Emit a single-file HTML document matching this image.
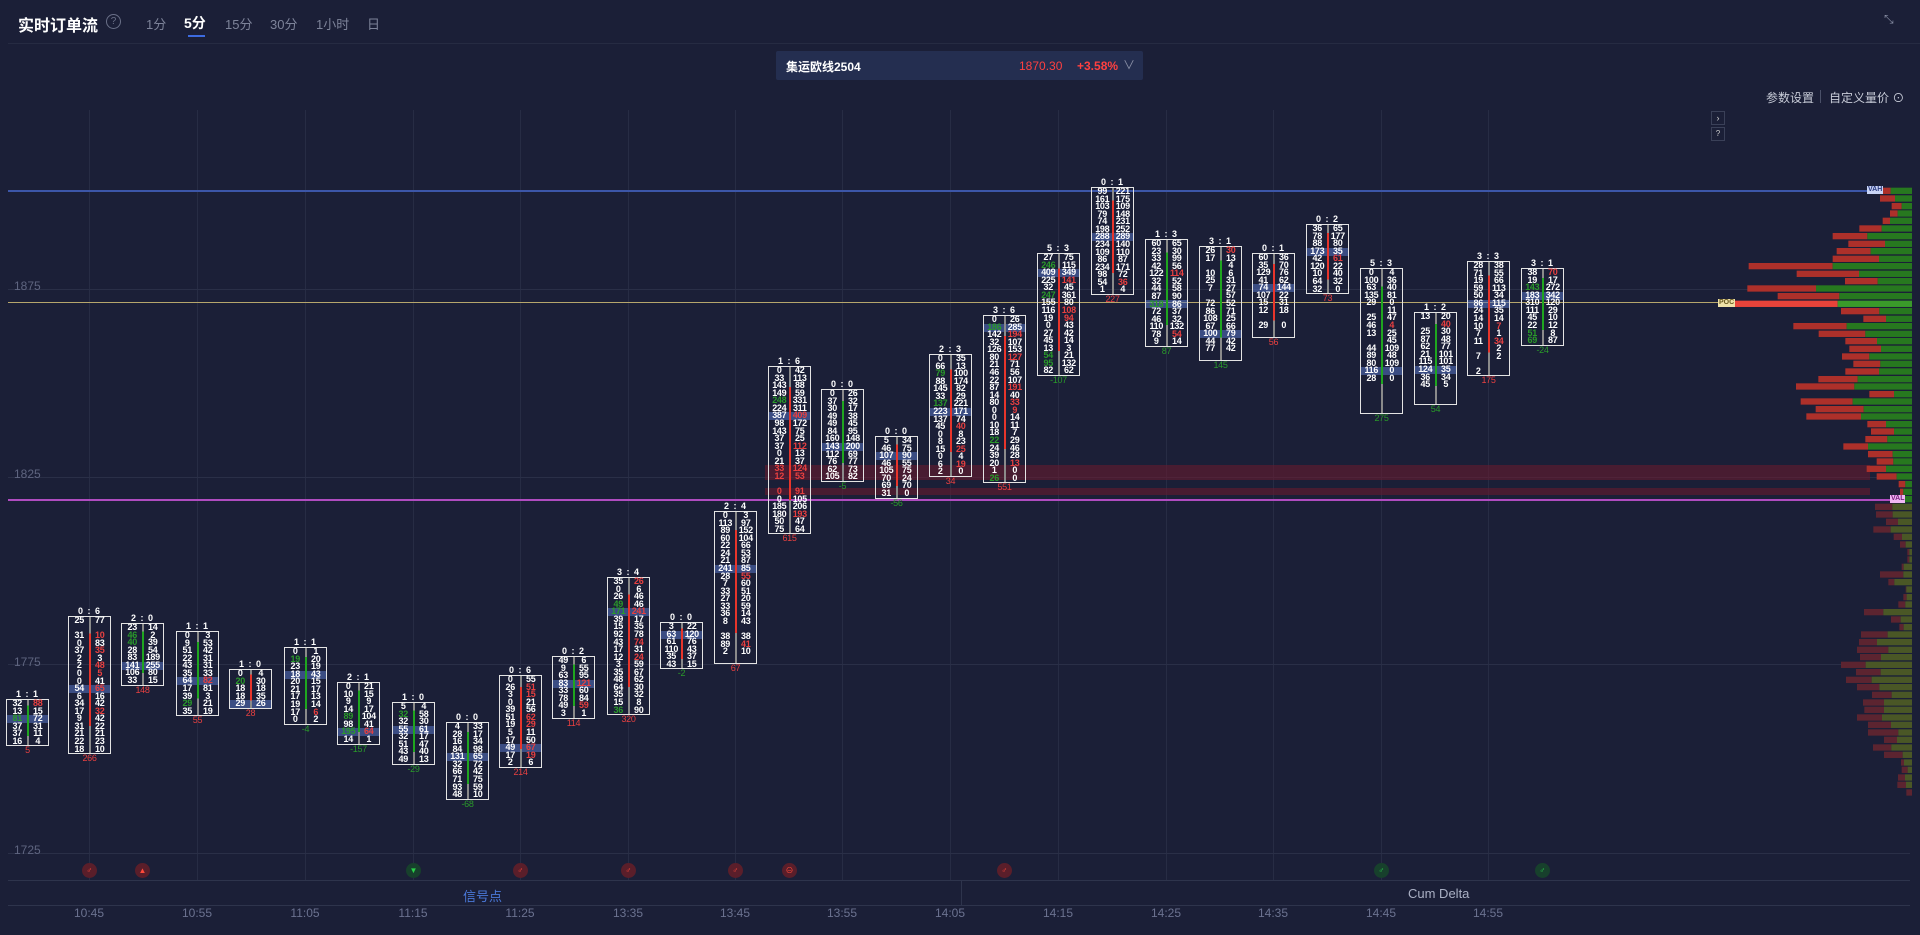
<!DOCTYPE html>
<html><head><meta charset="utf-8"><style>
*{box-sizing:border-box}
body{margin:0;width:1920px;height:935px;background:#1b1f37;overflow:hidden;position:relative;font-family:"Liberation Sans","Noto Sans CJK SC",sans-serif;color:#fff}
.a{position:absolute}
.t{font-size:13px;color:#7d8399;top:14px}
.vg{position:absolute;top:110px;height:770px;width:1px;background:#272c44}
.hg{position:absolute;left:8px;width:1902px;height:1px;background:#2a2f47}
.yl{position:absolute;left:14px;font-size:12px;color:#5f6580}
.xl{position:absolute;top:906px;font-size:12px;color:#6b7290;width:60px;text-align:center;margin-left:-30px}
.k{position:absolute;width:43px;font:bold 9px "Liberation Sans",sans-serif;color:#fff;text-align:center;letter-spacing:-0.3px}
.k h6{margin:0;height:10px;line-height:10px;font-size:9px;font-weight:bold;letter-spacing:1px}
.k .b{border:1px solid #e4e4e4;position:relative;display:flex}
.k .b p{margin:0;width:50%;line-height:7.57px;position:relative;z-index:2}
.k .b:after{content:'';position:absolute;left:20px;top:0;bottom:0;width:2px;background:linear-gradient(#8a8a8a 0 12%,var(--c) 12% 80%,#8a8a8a 80%);z-index:1}
.g{--c:#1fa61f}.r{--c:#e8352b}
.k i{position:absolute;left:0;right:0;height:7.6px;background:rgba(85,115,195,.55);z-index:0}
.k h5{margin:0;font-size:9px;line-height:9px;font-weight:normal}
.dr{color:#e84040}.dg{color:#2a9a2a}
.sg{position:absolute;top:863px;width:15px;height:15px;border-radius:50%;font-size:8px;line-height:15px;text-align:center}
.sr{background:#5a1e2a;color:#ff4a3a}.sgn{background:#17402c;color:#2ad04a}
</style></head><body>
<!-- header -->
<div class="a" style="left:18px;top:12px;font-size:16px;font-weight:bold">实时订单流</div>
<div class="a" style="left:106px;top:14px;width:15px;height:15px;border:1px solid #6a7088;border-radius:50%;font-size:10px;color:#6a7088;text-align:center;line-height:13px">?</div>
<div class="a t" style="left:146px">1分</div>
<div class="a t" style="left:184px;color:#fff;font-weight:bold;font-size:14px;top:13px">5分</div>
<div class="a" style="left:188px;top:35px;width:17px;height:2px;background:#3d6be0"></div>
<div class="a t" style="left:225px">15分</div>
<div class="a t" style="left:270px">30分</div>
<div class="a t" style="left:316px">1小时</div>
<div class="a t" style="left:367px">日</div>
<div class="a" style="left:1884px;top:12px;font-size:12px;color:#8a90a6">⤡</div>
<div class="a" style="left:8px;top:43px;width:1912px;height:1px;background:#262b42"></div>
<!-- dropdown -->
<div class="a" style="left:776px;top:51px;width:367px;height:29px;background:#242e50;border-radius:2px"></div>
<div class="a" style="left:786px;top:58px;font-size:12px;font-weight:bold">集运欧线2504</div>
<div class="a" style="left:1019px;top:59px;font-size:12px;color:#ff4040">1870.30</div>
<div class="a" style="left:1077px;top:59px;font-size:12px;color:#ff4040;font-weight:bold">+3.58%</div>
<div class="a" style="left:1123px;top:56px;font-size:12px;color:#8a90a6">∨</div>
<div class="a" style="left:1766px;top:89px;font-size:12px;color:#c8ccd8">参数设置</div>
<div class="a" style="left:1820px;top:90px;width:1px;height:13px;background:#4a5068"></div>
<div class="a" style="left:1829px;top:89px;font-size:12px;color:#c8ccd8">自定义量价 ⊙</div>
<div class="a" style="left:1711px;top:111px;width:14px;height:14px;border:1px solid #3a4058;font-size:9px;color:#ccc;text-align:center;line-height:12px">›</div>
<div class="a" style="left:1711px;top:127px;width:14px;height:14px;border:1px solid #3a4058;font-size:8px;color:#ccc;text-align:center;line-height:12px">?</div>
<!-- grid -->
<div class="vg" style="left:89px"></div><div class="vg" style="left:197px"></div><div class="vg" style="left:305px"></div><div class="vg" style="left:413px"></div><div class="vg" style="left:520px"></div><div class="vg" style="left:628px"></div><div class="vg" style="left:735px"></div><div class="vg" style="left:842px"></div><div class="vg" style="left:950px"></div><div class="vg" style="left:1058px"></div><div class="vg" style="left:1166px"></div><div class="vg" style="left:1273px"></div><div class="vg" style="left:1381px"></div><div class="vg" style="left:1488px"></div>
<div class="hg" style="top:289px"></div><div class="hg" style="top:477px"></div><div class="hg" style="top:664px"></div><div class="hg" style="top:853px"></div>
<div class="yl" style="top:279px">1875</div><div class="yl" style="top:467px">1825</div><div class="yl" style="top:655px">1775</div><div class="yl" style="top:843px">1725</div>
<!-- bands -->
<div class="a" style="left:765px;top:465px;width:1105px;height:15px;background:rgba(110,25,45,.55)"></div>
<div class="a" style="left:765px;top:488px;width:1105px;height:7px;background:rgba(110,25,45,.55)"></div>
<!-- key lines -->
<div class="a" style="left:8px;top:190px;width:1860px;height:2px;background:#3c56a8"></div>
<div class="a" style="left:8px;top:302px;width:1712px;height:1px;background:#b6a66c"></div>
<div class="a" style="left:8px;top:499px;width:1882px;height:2px;background:#b04cc0"></div>
<svg class="a" style="left:0;top:0" width="1920" height="935" id="pf"></svg>
<div class="a" style="left:1867px;top:186px;font-size:7px;font-weight:bold;background:#c9d4f5;color:#2a3a80;padding:0 1px;line-height:8px">VAH</div>
<div class="a" style="left:1718px;top:299px;font-size:7px;font-weight:bold;background:#efe2a8;color:#6a5a20;padding:0 1px;line-height:8px">POC</div>
<div class="a" style="left:1890px;top:495px;font-size:7px;font-weight:bold;background:#f0b8f4;color:#7a2080;padding:0 1px;line-height:8px">VAL</div>

<!-- candles -->
<div class="k" style="left:6px;top:689px"><h6>1 : 1</h6><div class="b g"><i style="top:15px"></i><p>32<br>13<br><span class="dg">81</span><br>37<br>37<br>16</p><p><span class="dr">88</span><br>15<br>72<br>31<br>11<br>4</p></div><h5 class="dr">5</h5></div>
<div class="k" style="left:68px;top:606px"><h6>0 : 6</h6><div class="b r"><i style="top:68px"></i><p>25<br>&nbsp;<br>31<br>0<br>37<br>2<br>2<br>0<br>0<br>54<br>6<br>34<br>17<br>9<br>31<br>21<br>22<br>18</p><p>77<br>&nbsp;<br><span class="dr">10</span><br>83<br><span class="dr">35</span><br>3<br><span class="dr">48</span><br><span class="dr">5</span><br>41<br><span class="dr">65</span><br>16<br>42<br><span class="dr">32</span><br>42<br>22<br>21<br>23<br>10</p></div><h5 class="dr">266</h5></div>
<div class="k" style="left:121px;top:613px"><h6>2 : 0</h6><div class="b g"><i style="top:38px"></i><p>23<br><span class="dg">46</span><br><span class="dg">40</span><br>28<br>83<br>141<br>106<br>33</p><p>14<br>2<br>39<br>54<br>189<br>255<br>80<br>15</p></div><h5 class="dr">148</h5></div>
<div class="k" style="left:176px;top:621px"><h6>1 : 1</h6><div class="b g"><i style="top:45px"></i><p>0<br>9<br>51<br>22<br>43<br>35<br>64<br>17<br>39<br><span class="dg">29</span><br>35</p><p>3<br>53<br>42<br>31<br>31<br>33<br><span class="dr">82</span><br>81<br>3<br>21<br>19</p></div><h5 class="dr">55</h5></div>
<div class="k" style="left:229px;top:659px"><h6>1 : 0</h6><div class="b r"><i style="top:30px"></i><p>0<br><span class="dg">20</span><br>18<br>18<br>29</p><p>4<br>30<br>18<br>35<br>26</p></div><h5 class="dr">28</h5></div>
<div class="k" style="left:284px;top:637px"><h6>1 : 1</h6><div class="b g"><i style="top:23px"></i><p>0<br><span class="dg">19</span><br>23<br>18<br>20<br>21<br>17<br>19<br>17<br>0</p><p>1<br>20<br>19<br>43<br>15<br>17<br>13<br>14<br><span class="dr">6</span><br>2</p></div><h5 class="dg">-4</h5></div>
<div class="k" style="left:337px;top:672px"><h6>2 : 1</h6><div class="b g"><i style="top:45px"></i><p>0<br>10<br>9<br>14<br><span class="dg">89</span><br>98<br><span class="dg">195</span><br>14</p><p>21<br>15<br>9<br>17<br>104<br>41<br><span class="dr">64</span><br>1</p></div><h5 class="dg">-157</h5></div>
<div class="k" style="left:392px;top:692px"><h6>1 : 0</h6><div class="b g"><i style="top:23px"></i><p>5<br><span class="dg">32</span><br>32<br>55<br>32<br>51<br>43<br>49</p><p>4<br>58<br>30<br>61<br>17<br>47<br>40<br>13</p></div><h5 class="dg">-29</h5></div>
<div class="k" style="left:446px;top:712px"><h6>0 : 0</h6><div class="b g"><i style="top:30px"></i><p>4<br>28<br>16<br>84<br>131<br>32<br>66<br>71<br>93<br>48</p><p>33<br>17<br>34<br>98<br>65<br>72<br>42<br>75<br>59<br>10</p></div><h5 class="dg">-68</h5></div>
<div class="k" style="left:499px;top:665px"><h6>0 : 6</h6><div class="b r"><i style="top:68px"></i><p>0<br>26<br>3<br>0<br>39<br>51<br>19<br>5<br>17<br>49<br>17<br>2</p><p>55<br><span class="dr">51</span><br><span class="dr">15</span><br>21<br>56<br><span class="dr">62</span><br><span class="dr">29</span><br>11<br>50<br><span class="dr">67</span><br><span class="dr">19</span><br>6</p></div><h5 class="dr">214</h5></div>
<div class="k" style="left:552px;top:646px"><h6>0 : 2</h6><div class="b g"><i style="top:23px"></i><p>49<br>9<br>63<br>83<br>33<br>78<br>49<br>3</p><p>6<br>55<br>95<br><span class="dr">121</span><br>60<br>84<br><span class="dr">59</span><br>1</p></div><h5 class="dr">114</h5></div>
<div class="k" style="left:607px;top:567px"><h6>3 : 4</h6><div class="b r"><i style="top:30px"></i><p>35<br>0<br>26<br><span class="dg">49</span><br><span class="dg">171</span><br>39<br>15<br>92<br>43<br>17<br>12<br>3<br>35<br>48<br>64<br>35<br>15<br><span class="dg">36</span></p><p><span class="dr">26</span><br>6<br>46<br>46<br><span class="dr">241</span><br>17<br>35<br>78<br><span class="dr">74</span><br>31<br><span class="dr">24</span><br>59<br>67<br>62<br>30<br>32<br>8<br>90</p></div><h5 class="dr">320</h5></div>
<div class="k" style="left:660px;top:612px"><h6>0 : 0</h6><div class="b r"><i style="top:8px"></i><p>3<br>63<br>61<br>110<br>35<br>43</p><p>22<br>120<br>76<br>43<br>37<br>15</p></div><h5 class="dg">-2</h5></div>
<div class="k" style="left:714px;top:501px"><h6>2 : 4</h6><div class="b r"><i style="top:53px"></i><p>0<br>113<br>89<br>60<br>22<br>24<br>21<br>241<br>28<br>7<br>33<br>27<br>33<br>36<br>8<br>&nbsp;<br>38<br>89<br>2<br>&nbsp;</p><p>3<br>97<br>152<br>104<br>66<br>53<br>87<br>85<br><span class="dr">55</span><br>60<br>51<br>20<br>59<br>14<br>43<br>&nbsp;<br>38<br><span class="dr">41</span><br>10<br>&nbsp;</p></div><h5 class="dr">67</h5></div>
<div class="k" style="left:768px;top:356px"><h6>1 : 6</h6><div class="b r"><i style="top:45px"></i><p>0<br>33<br>143<br>149<br><span class="dg">248</span><br>224<br>387<br>98<br>143<br>37<br>37<br>0<br>21<br><span class="dr">33</span><br><span class="dr">12</span><br>&nbsp;<br><span class="dr">0</span><br>0<br>185<br>180<br>50<br>75</p><p>42<br>113<br>88<br>59<br>331<br>311<br><span class="dr">409</span><br>172<br>75<br>25<br><span class="dr">112</span><br>13<br>37<br><span class="dr">124</span><br><span class="dr">53</span><br>&nbsp;<br><span class="dr">91</span><br>105<br>206<br><span class="dr">193</span><br>47<br>64</p></div><h5 class="dr">615</h5></div>
<div class="k" style="left:821px;top:379px"><h6>0 : 0</h6><div class="b g"><i style="top:53px"></i><p>0<br>37<br>30<br>49<br>49<br>84<br>160<br>143<br>112<br>76<br>62<br>105</p><p>26<br>32<br>17<br>38<br>45<br>95<br>148<br>200<br>69<br>77<br>73<br>82</p></div><h5 class="dg">-5</h5></div>
<div class="k" style="left:875px;top:426px"><h6>0 : 0</h6><div class="b r"><i style="top:15px"></i><p>5<br>46<br>107<br>46<br>105<br>70<br>69<br>31</p><p>34<br>75<br>90<br>55<br>75<br>24<br>70<br>0</p></div><h5 class="dg">-56</h5></div>
<div class="k" style="left:929px;top:344px"><h6>2 : 3</h6><div class="b r"><i style="top:53px"></i><p>0<br>66<br><span class="dg">79</span><br>88<br>145<br>33<br><span class="dg">137</span><br>223<br>137<br>45<br>0<br>8<br>15<br>0<br>6<br>2</p><p>35<br>13<br>100<br>174<br>82<br>29<br>221<br>171<br>74<br><span class="dr">40</span><br>8<br>23<br><span class="dr">25</span><br>4<br><span class="dr">19</span><br>0</p></div><h5 class="dr">34</h5></div>
<div class="k" style="left:983px;top:305px"><h6>3 : 6</h6><div class="b r"><i style="top:8px"></i><p>0<br><span class="dg">186</span><br>142<br>32<br>126<br>80<br>21<br>46<br>22<br>87<br>14<br>80<br>0<br>0<br>10<br>18<br><span class="dg">22</span><br>24<br>39<br>20<br>1<br><span class="dg">26</span></p><p>26<br>285<br><span class="dr">194</span><br>107<br>153<br><span class="dr">127</span><br>71<br>56<br>107<br><span class="dr">191</span><br>40<br><span class="dr">33</span><br><span class="dr">9</span><br>14<br>11<br>7<br>29<br>46<br>28<br><span class="dr">13</span><br>0<br>0</p></div><h5 class="dr">551</h5></div>
<div class="k" style="left:1037px;top:243px"><h6>5 : 3</h6><div class="b r"><i style="top:15px"></i><p>27<br><span class="dg">246</span><br>409<br>225<br>32<br><span class="dg">247</span><br>155<br>116<br>19<br>0<br>27<br>45<br>13<br><span class="dg">54</span><br><span class="dg">95</span><br>82</p><p>75<br>115<br>349<br><span class="dr">141</span><br>45<br>361<br>80<br><span class="dr">108</span><br><span class="dr">94</span><br>43<br>42<br>14<br>3<br>21<br>132<br>62</p></div><h5 class="dg">-107</h5></div>
<div class="k" style="left:1091px;top:177px"><h6>0 : 1</h6><div class="b r"><i style="top:45px"></i><p>99<br>161<br>103<br>79<br>74<br>198<br>288<br>234<br>109<br>86<br>234<br>98<br>54<br>1</p><p>221<br>175<br>109<br>148<br>231<br>252<br>289<br>140<br>110<br>87<br>171<br>72<br><span class="dr">36</span><br>4</p></div><h5 class="dr">227</h5></div>
<div class="k" style="left:1145px;top:229px"><h6>1 : 3</h6><div class="b g"><i style="top:60px"></i><p>60<br>23<br>33<br>42<br>122<br>32<br>44<br>87<br><span class="dg">318</span><br>72<br>46<br>110<br>78<br>9</p><p>65<br>30<br>99<br>56<br><span class="dr">114</span><br>52<br>58<br>90<br>86<br>37<br>32<br>132<br><span class="dr">54</span><br>14</p></div><h5 class="dg">87</h5></div>
<div class="k" style="left:1199px;top:236px"><h6>3 : 1</h6><div class="b g"><i style="top:83px"></i><p>26<br>17<br>&nbsp;<br>10<br>25<br>7<br>&nbsp;<br>72<br>86<br>108<br>67<br>100<br>44<br>77<br>&nbsp;</p><p><span class="dr">30</span><br>13<br>4<br>6<br>31<br>27<br>57<br>52<br>71<br>25<br>66<br>79<br>42<br>42<br>&nbsp;</p></div><h5 class="dg">145</h5></div>
<div class="k" style="left:1252px;top:243px"><h6>0 : 1</h6><div class="b r"><i style="top:30px"></i><p>60<br>35<br>129<br>41<br>74<br>107<br>15<br>12<br>&nbsp;<br>29<br>&nbsp;</p><p>36<br>70<br>76<br>62<br>144<br>22<br>31<br>18<br>&nbsp;<br>0<br>&nbsp;</p></div><h5 class="dr">56</h5></div>
<div class="k" style="left:1306px;top:214px"><h6>0 : 2</h6><div class="b r"><i style="top:23px"></i><p>36<br>78<br>88<br>173<br>42<br>120<br>10<br>64<br>32</p><p>65<br>177<br>80<br>35<br><span class="dr">61</span><br>22<br>40<br>32<br>0</p></div><h5 class="dr">73</h5></div>
<div class="k" style="left:1360px;top:258px"><h6>5 : 3</h6><div class="b g"><i style="top:98px"></i><p>0<br>100<br>63<br>135<br>29<br>&nbsp;<br>25<br>46<br>13<br>&nbsp;<br>44<br>89<br>80<br>116<br>28<br>&nbsp;<br>&nbsp;<br>&nbsp;<br>&nbsp;</p><p>4<br>36<br>40<br>81<br>0<br>11<br>47<br><span class="dr">4</span><br>25<br>45<br>109<br>48<br>109<br>0<br>0<br>&nbsp;<br>&nbsp;<br>&nbsp;<br>&nbsp;</p></div><h5 class="dg">275</h5></div>
<div class="k" style="left:1414px;top:302px"><h6>1 : 2</h6><div class="b g"><i style="top:53px"></i><p>13<br>&nbsp;<br>25<br>87<br>62<br>21<br>115<br>124<br>36<br>45<br>&nbsp;<br>&nbsp;</p><p>20<br><span class="dr">40</span><br>30<br>48<br>77<br>101<br>101<br>35<br>34<br>5<br>&nbsp;<br>&nbsp;</p></div><h5 class="dg">54</h5></div>
<div class="k" style="left:1467px;top:251px"><h6>3 : 3</h6><div class="b r"><i style="top:38px"></i><p>28<br>71<br>19<br>59<br>50<br>86<br>24<br>14<br>10<br>7<br>11<br>&nbsp;<br>7<br>&nbsp;<br>2</p><p>38<br>55<br>66<br>113<br>34<br>115<br>35<br>14<br><span class="dr">7</span><br>1<br><span class="dr">34</span><br>2<br>2<br>&nbsp;<br>&nbsp;</p></div><h5 class="dr">175</h5></div>
<div class="k" style="left:1521px;top:258px"><h6>3 : 1</h6><div class="b g"><i style="top:23px"></i><p>38<br>19<br><span class="dg">143</span><br>183<br>310<br>111<br>45<br>22<br><span class="dg">51</span><br><span class="dg">69</span></p><p><span class="dr">70</span><br>17<br>272<br>342<br>120<br>29<br>10<br>12<br>8<br>87</p></div><h5 class="dg">-24</h5></div>

<!-- signals -->
<div class="sg sr" style="left:82px">♂</div>
<div class="sg sr" style="left:135px">▲</div>
<div class="sg sgn" style="left:406px">▼</div>
<div class="sg sr" style="left:513px">♂</div>
<div class="sg sr" style="left:621px">♂</div>
<div class="sg sr" style="left:728px">♂</div>
<div class="sg sr" style="left:782px">⊖</div>
<div class="sg sr" style="left:997px">♂</div>
<div class="sg sgn" style="left:1374px">♂</div>
<div class="sg sgn" style="left:1535px">♂</div>
<!-- bottom -->
<div class="a" style="left:8px;top:880px;width:1902px;height:1px;background:#2e344c"></div>
<div class="a" style="left:961px;top:881px;width:1px;height:24px;background:#2e344c"></div>
<div class="a" style="left:463px;top:886px;font-size:13px;color:#4a78d8">信号点</div>
<div class="a" style="left:1408px;top:886px;font-size:13px;color:#aab0c4">Cum Delta</div>
<div class="a" style="left:8px;top:905px;width:1902px;height:1px;background:#2e344c"></div>
<div class="xl" style="left:89px">10:45</div><div class="xl" style="left:197px">10:55</div><div class="xl" style="left:305px">11:05</div><div class="xl" style="left:413px">11:15</div><div class="xl" style="left:520px">11:25</div><div class="xl" style="left:628px">13:35</div><div class="xl" style="left:735px">13:45</div><div class="xl" style="left:842px">13:55</div><div class="xl" style="left:950px">14:05</div><div class="xl" style="left:1058px">14:15</div><div class="xl" style="left:1166px">14:25</div><div class="xl" style="left:1273px">14:35</div><div class="xl" style="left:1381px">14:45</div><div class="xl" style="left:1488px">14:55</div>
<script>
var A=[[122,1145,1172],[145,1140,1185],[168,1175,1205],[190,1170,1193],[212,1148,1170],[235,1078,1145],[258,998,1102],[281,1045,1155],[303,1010,1112],[326,998,1137],[348,746,998],[371,890,1077],[393,1035,1133],[415,742,948],[438,833,1018],[461,695,1013],[483,1023,1138],[506,1090,1158],[528,880,1040],[551,956,1096],[573,1036,1131],[596,1048,1143],[619,1026,1108],[641,1060,1141],[664,1036,1137],[687,955,1073],[709,888,1063],[732,1108,1182],[754,902,1058],[777,947,1091],[799,919,1083],[822,1102,1158],[844,1113,1182],[867,1096,1162],[889,1030,1104],[912,1104,1178],[934,1130,1180],[956,1100,1158],[979,1130,1190],[1002,1196,1216],[1025,1200,1210],[1047,1200,1208],[1070,1125,1177],[1093,1128,1178],[1115,1158,1194],[1138,1120,1172],[1160,1181,1206]];
var B=[[13,1200,1217],[36,1222,1228],[58,1222,1228],[80,1205,1211],[103,1140,1210],[126,1165,1183],[148,1217,1219],[171,1210,1220],[193,1195,1216],[216,1092,1150],[238,1173,1202],[261,1198,1211],[283,1083,1163],[306,1077,1131],[329,1071,1165],[351,1080,1143],[374,1023,1097],[396,1068,1142],[419,1038,1115],[441,1071,1138],[464,1116,1175],[487,1089,1152],[509,1093,1152],[532,1071,1146],[554,1104,1173],[577,1104,1195],[599,1152,1191],[622,1119,1174],[644,1152,1208],[667,1203,1212],[689,1205,1223],[712,1194,1215],[734,1192,1218],[757,1219,1236]];
var s='',R=1912;
function bar(y,r,g,dim,poc){var x1=1500+r/3,x2=1500+g/3;y=y-3;
 s+='<rect x="'+x1+'" y="'+y+'" width="'+(x2-x1)+'" height="6.3" fill="'+(poc?'#e8433a':dim?'#5c2430':'#ad302a')+'"/>';
 s+='<rect x="'+x2+'" y="'+y+'" width="'+(R-x2)+'" height="6.3" fill="'+(poc?'#3a9a2a':dim?'#4a5726':'#27781f')+'"/>';}
A.forEach(function(a){bar(150+a[0]/3,a[1],a[2],a[0]>1050,a[0]==461)});
B.forEach(function(a){bar(540+a[0]/3,a[1],a[2],true,false)});
document.getElementById('pf').innerHTML=s;
</script>
</body></html>
